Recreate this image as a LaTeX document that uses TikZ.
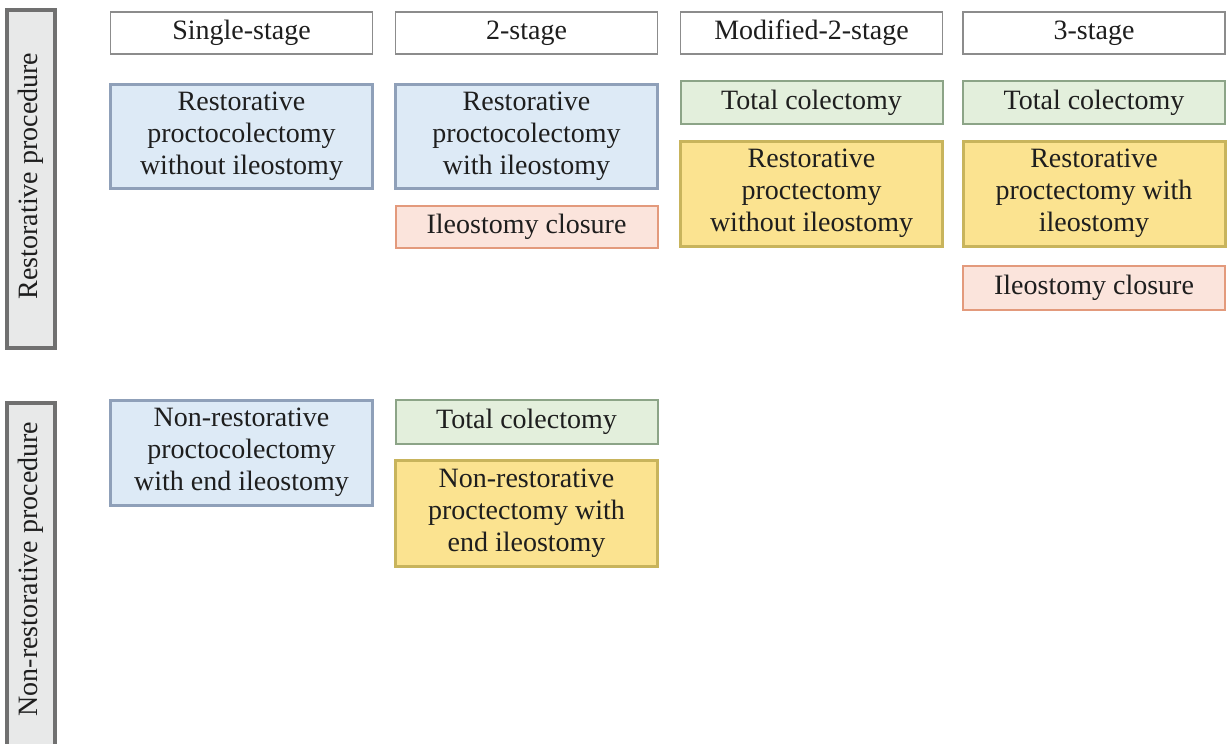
\documentclass[tikz,border=0pt]{standalone}
\usepackage{fontspec}
\setmainfont{Liberation Serif}
\definecolor{hdrline}{HTML}{8C8C8C}
\definecolor{sidefill}{HTML}{E8E9E9}
\definecolor{sideline}{HTML}{707070}
\definecolor{bluefill}{HTML}{DDEAF6}
\definecolor{blueline}{HTML}{8FA0B9}
\definecolor{pinkfill}{HTML}{FBE4DC}
\definecolor{pinkline}{HTML}{E39A7C}
\definecolor{greenfill}{HTML}{E3EFDC}
\definecolor{greenline}{HTML}{8CA487}
\definecolor{yellowfill}{HTML}{FBE390}
\definecolor{yellowline}{HTML}{C8B45C}
\definecolor{txt}{HTML}{1E1E1E}
\tikzset{
  base/.style={rectangle, inner sep=0pt, align=center, text=txt,
    font=\fontsize{28}{32}\selectfont, minimum width=262pt},
  hdr/.style={base, draw=hdrline, line width=1.6pt, fill=white, minimum height=42pt},
  bluebox/.style={base, draw=blueline, line width=3pt, fill=bluefill, minimum height=104pt},
  pinkbox/.style={base, draw=pinkline, line width=2pt, fill=pinkfill, minimum height=42pt},
  greenbox/.style={base, draw=greenline, line width=2pt, fill=greenfill, minimum height=43pt},
  yellowbox/.style={base, draw=yellowline, line width=3pt, fill=yellowfill, minimum height=105pt},
  sidebox/.style={rectangle, inner sep=0pt, align=center, text=txt, rotate=90,
    font=\fontsize{28}{32}\selectfont, draw=sideline, line width=3.5pt, fill=sidefill,
    minimum height=48pt}
}
\begin{document}
\begin{tikzpicture}[x=1pt, y=-1pt]
\useasboundingbox (0,0) rectangle (1227,744);
% side labels
\node[sidebox, minimum width=338pt] (side1) at (31,179) {\hspace*{6pt}Restorative procedure};
\node[sidebox, minimum width=350pt] (side2) at (31,578) {\hspace*{18pt}Non-restorative procedure};
% headers
\node[hdr] (h1) at (241.5,33) {Single-stage};
\node[hdr] (h2) at (526.5,33) {2-stage};
\node[hdr] (h3) at (811.5,33) {Modified-2-stage};
\node[hdr] (h4) at (1094,33) {3-stage};
% restorative row
\node[bluebox] (r1) at (241.5,136) {Restorative\\proctocolectomy\\without ileostomy};
\node[bluebox] (r2) at (526.5,136) {Restorative\\proctocolectomy\\with ileostomy};
\node[pinkbox] (r2c) at (526.5,227) {Ileostomy closure};
\node[greenbox] (r3t) at (811.5,102.5) {Total colectomy};
\node[yellowbox] (r3) at (811.5,193.5) {Restorative\\proctectomy\\without ileostomy};
\node[greenbox] (r4t) at (1094,102.5) {Total colectomy};
\node[yellowbox] (r4) at (1094,193.5) {Restorative\\proctectomy with\\ileostomy};
\node[pinkbox, minimum height=44pt] (r4c) at (1094,288) {Ileostomy closure};
% non-restorative row
\node[bluebox, minimum height=105pt] (n1) at (241.5,452.5) {Non-restorative\\proctocolectomy\\with end ileostomy};
\node[greenbox, minimum height=44pt] (n2t) at (526.5,422) {Total colectomy};
\node[yellowbox, minimum height=106pt] (n2) at (526.5,513) {Non-restorative\\proctectomy with\\end ileostomy};
\end{tikzpicture}
\end{document}
